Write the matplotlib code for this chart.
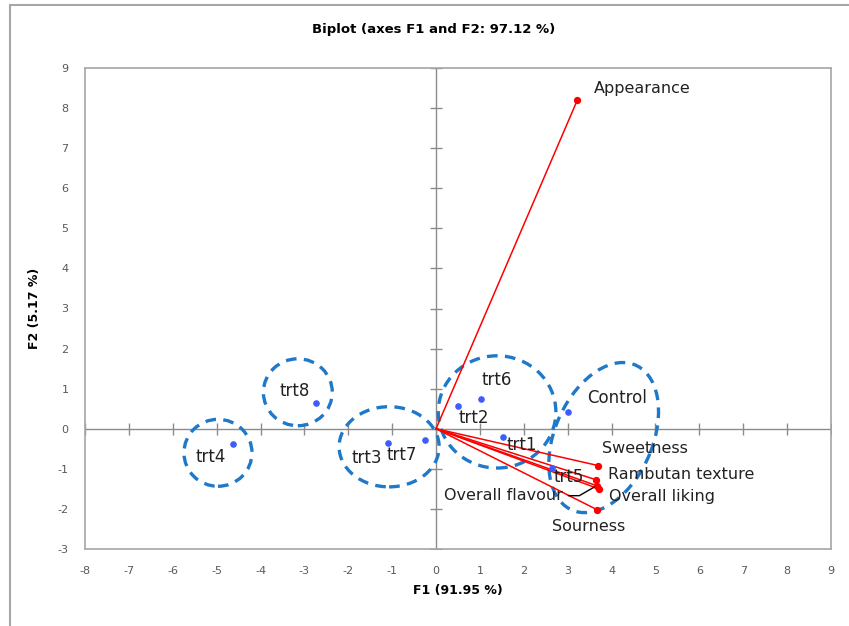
import matplotlib.pyplot as plt
from matplotlib.patches import Ellipse, Rectangle

# observations (treatments) on F1 / F2
obs_names = ["trt1", "trt2", "trt3", "trt4", "trt5", "trt6", "trt7", "trt8", "Control"]
obs_f1 = [1.53, 0.51, -1.09, -4.63, 2.65, 1.02, -0.25, -2.73, 3.01]
obs_f2 = [-0.21, 0.56, -0.36, -0.39, -0.98, 0.74, -0.27, 0.63, 0.43]

# sensory attributes (loadings drawn as vectors from the origin)
var_names = ["Appearance", "Sweetness", "Rambutan texture", "Overall flavour", "Overall liking", "Sourness"]
var_f1 = [3.22, 3.70, 3.64, 3.66, 3.71, 3.67]
var_f2 = [8.20, -0.92, -1.27, -1.42, -1.50, -2.02]

xticks = list(range(-8, 10))
yticks = list(range(-3, 10))

# label offsets in pixels
obs_off = {"trt1": (19, -8), "trt2": (15, -12), "trt3": (-21, -15), "trt4": (-22, -13),
           "trt5": (16, -9), "trt6": (16, 19), "trt7": (-23, -15), "trt8": (-22, 12),
           "Control": (49, 14)}
var_off = {"Appearance": (17, 12, "left"), "Sweetness": (4, 17, "left"),
           "Rambutan texture": (12, 5, "left"), "Overall liking": (10, -8, "left"),
           "Overall flavour": (-34, -10, "right"), "Sourness": (-8, -17, "center")}

# grouping ellipses: center, width, height, angle
groups = [((-3.15, 0.91), 1.57, 1.67, 0),
          ((-4.97, -0.60), 1.55, 1.67, 0),
          ((-1.07, -0.45), 2.28, 2.00, 0),
          ((1.39, 0.42), 2.68, 2.80, 0),
          ((3.82, -0.22), 3.90, 2.25, 70)]

plt.rcParams["font.family"] = ["DejaVu Sans"]
plt.rcParams["axes.unicode_minus"] = False
fig = plt.figure(figsize=(8.49, 6.26), dpi=100)
ax = fig.add_axes([85 / 849, 77 / 626, 746 / 849, 481 / 626])

# outer chart border
fig.add_artist(Rectangle((10 / 849, -0.1), 1.2, 1.1 - 5 / 626, transform=fig.transFigure,
                         fill=False, edgecolor="#a6a6a6", lw=1.5))

ax.set_xlim(-8, 9)
ax.set_ylim(-3, 9)
for s in ax.spines.values():
    s.set_color("#a6a6a6")
    s.set_linewidth(1.2)

# cross axes through the origin with small tick marks
ax.axhline(0, color="#8c8c8c", lw=1, zorder=1)
ax.axvline(0, color="#8c8c8c", lw=1, zorder=1)
ax.plot(xticks, [0] * len(xticks), ls="none", marker="|", ms=8, mew=1, color="#8c8c8c", zorder=1)
ax.plot([0] * len(yticks), yticks, ls="none", marker="_", ms=8, mew=1, color="#8c8c8c", zorder=1)

ax.set_xticks(xticks)
ax.set_yticks(yticks)
ax.tick_params(length=0, labelsize=8, labelcolor="#595959", pad=12)

for (c, w, h, a) in groups:
    ax.add_patch(Ellipse(c, w, h, angle=a, fill=False, edgecolor="#1f78c8",
                         lw=2.4, ls=(0, (3.2, 2.2)), zorder=2))

for x, y in zip(var_f1, var_f2):
    ax.plot([0, x], [0, y], color="red", lw=1.1, zorder=3)
ax.scatter(var_f1, var_f2, s=18, color="red", zorder=4)

for name, x, y in zip(var_names, var_f1, var_f2):
    dx, dy, ha = var_off[name]
    props = None
    if name == "Overall flavour":
        props = dict(arrowstyle="-", color="black", lw=1, shrinkA=2, shrinkB=2,
                     connectionstyle="angle,angleA=0,angleB=30,rad=0")
    ax.annotate(name, (x, y), xytext=(dx, dy), textcoords="offset pixels",
                ha=ha, va="center", fontsize=11.5, color="#222222",
                arrowprops=props, zorder=5)

ax.scatter(obs_f1, obs_f2, s=14, color="#3d5cff", zorder=4)
for name, x, y in zip(obs_names, obs_f1, obs_f2):
    dx, dy = obs_off[name]
    ax.annotate(name, (x, y), xytext=(dx, dy), textcoords="offset pixels",
                ha="center", va="center", fontsize=12, color="#222222", zorder=5)

ax.set_xlabel("F1 (91.95 %)", fontsize=9, fontweight="bold", labelpad=6)
ax.set_ylabel("F2 (5.17 %)", fontsize=9, fontweight="bold", labelpad=12)
fig.text(434 / 849, 1 - 30 / 626, "Biplot (axes F1 and F2: 97.12 %)", ha="center", va="center",
         fontsize=9.5, fontweight="bold")

fig.savefig("out.png", dpi=100)
